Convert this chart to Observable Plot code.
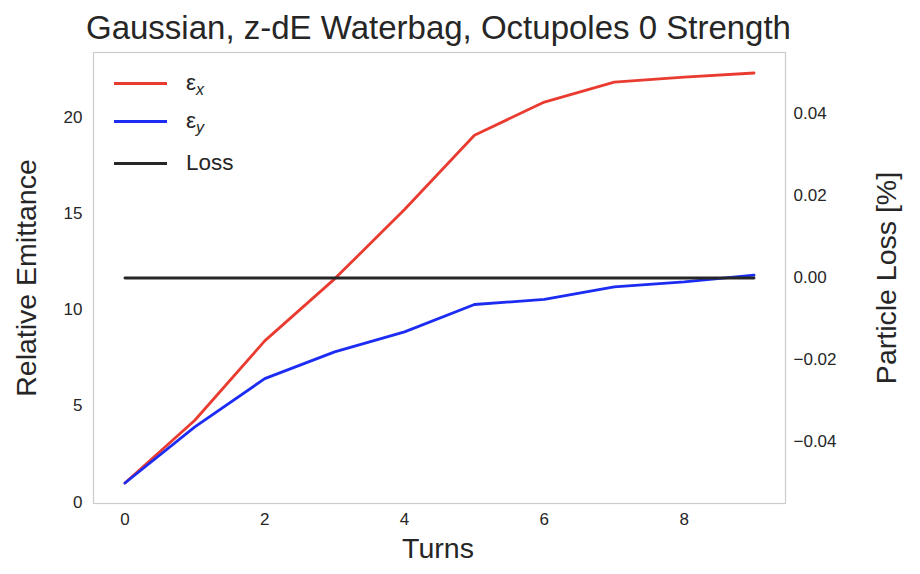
<!DOCTYPE html>
<html>
<head>
<meta charset="utf-8">
<script src="https://cdn.jsdelivr.net/npm/d3@7"></script>
<script src="https://cdn.jsdelivr.net/npm/@observablehq/plot@0.6"></script>
<style>
  body { margin: 0; background: #fff; font-family: "Liberation Sans", Arial, sans-serif; color: #262626; }
  #wrap { position: relative; width: 920px; height: 574px; overflow: hidden; }
  #title { position: absolute; left: 0px; width: 877px; top: 8px; text-align: center; font-size: 33px; line-height: 40px; white-space: nowrap; }
  .lab { position: absolute; font-size: 28.5px; line-height: 32px; white-space: nowrap; }
  #legend { position: absolute; left: 0; top: 0; font-size: 22.5px; }
  .row { position: absolute; left: 114px; display: flex; align-items: center; height: 30px; }
  .sw { width: 53px; height: 3px; margin-right: 19px; }
  sub { font-size: 16px; vertical-align: -5px; line-height: 0; }
</style>
</head>
<body>
<div id="wrap">
  <div id="title">Gaussian, z-dE Waterbag, Octupoles 0 Strength</div>
  <div id="plot"></div>
  <div class="lab" id="xlab" style="left:338px; width:200px; text-align:center; top:532px;">Turns</div>
  <div class="lab" id="ylab" style="left:26px; top:278px; transform: translate(-50%,-50%) rotate(-90deg);">Relative Emittance</div>
  <div class="lab" id="y2lab" style="left:886px; top:278px; transform: translate(-50%,-50%) rotate(-90deg);">Particle Loss [%]</div>
  <div id="legend"></div>
</div>
<script>
const turns = [0, 1, 2, 3, 4, 5, 6, 7, 8, 9];
const epsX = [1.0, 4.26, 8.38, 11.6, 15.2, 19.06, 20.78, 21.82, 22.08, 22.29];
const epsY = [1.0, 3.91, 6.42, 7.81, 8.85, 10.27, 10.53, 11.18, 11.44, 11.79];
const loss = [0, 0, 0, 0, 0, 0, 0, 0, 0, 0];
const xTicks = [0, 2, 4, 6, 8];
const leftTicks = [0, 5, 10, 15, 20];
const rightTicks = [-0.04, -0.02, 0.0, 0.02, 0.04];
const seriesNames = ["εx", "εy", "Loss"];
const colors = ["#ea3b30", "#1c2cf2", "#262626"];

// domains with matplotlib-style 5% margins
const allEps = epsX.concat(epsY);
const eMin = d3.min(allEps), eMax = d3.max(allEps), ePad = (eMax - eMin) * 0.05;
const yDomain = [eMin - ePad, eMax + ePad];
const xPad = (d3.max(turns) - d3.min(turns)) * 0.05;
const xDomain = [d3.min(turns) - xPad, d3.max(turns) + xPad];
const lossDomain = [-0.055, 0.055];
const lossToLeft = d3.scaleLinear().domain(lossDomain).range(yDomain);

const rows = [];
turns.forEach((t, i) => {
  rows.push({t, v: epsX[i], s: "εx"});
  rows.push({t, v: epsY[i], s: "εy"});
  rows.push({t, v: lossToLeft(loss[i]), s: "Loss"});
});

const chart = Plot.plot({
  width: 920,
  height: 574,
  marginTop: 52,
  marginBottom: 71,
  marginLeft: 93,
  marginRight: 135,
  style: { fontFamily: "'Liberation Sans', Arial, sans-serif", fontSize: "17px", color: "#262626", background: "#fff" },
  x: { domain: xDomain },
  y: { domain: yDomain },
  color: { domain: seriesNames, range: colors },
  marks: [
    Plot.frame({ stroke: "#cccccc", strokeWidth: 1.2 }),
    Plot.axisX(xTicks, { tickSize: 0, tickPadding: 9, label: null, fontSize: 17 }),
    Plot.axisY(leftTicks, { anchor: "left", tickSize: 0, tickPadding: 11, label: null, fontSize: 17 }),
    Plot.axisY(rightTicks.map(lossToLeft), {
      anchor: "right", tickSize: 0, tickPadding: 8, label: null, fontSize: 17,
      tickFormat: (d) => { const v = lossToLeft.invert(d); return d3.format(".2f")(Math.abs(v) < 1e-9 ? 0 : v).replace("-", "−"); }
    }),
    Plot.line(rows.filter(r => r.s === "εx"), { x: "t", y: "v", stroke: "s", strokeWidth: 2.8 }),
    Plot.line(rows.filter(r => r.s === "εy"), { x: "t", y: "v", stroke: "s", strokeWidth: 2.8 }),
    Plot.line(rows.filter(r => r.s === "Loss"), { x: "t", y: "v", stroke: "s", strokeWidth: 2.8 })
  ]
});
document.getElementById("plot").appendChild(chart);

const legendLabels = ["ε<sub><i>x</i></sub>", "ε<sub><i>y</i></sub>", "Loss"];
const legendRowY = [83, 121, 163];
document.getElementById("legend").innerHTML = seriesNames.map((s, i) =>
  `<div class="row" style="top:${legendRowY[i] - 15}px"><div class="sw" style="background:${colors[i]}"></div><span>${legendLabels[i]}</span></div>`
).join("");
</script>
</body>
</html>
